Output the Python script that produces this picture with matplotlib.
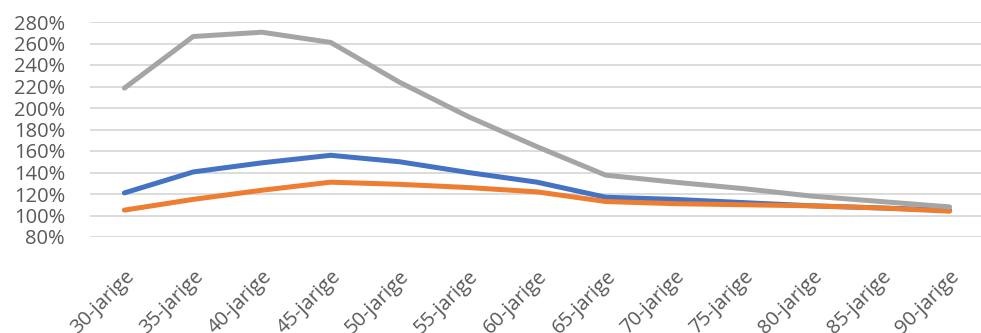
import matplotlib
matplotlib.use("Agg")
import matplotlib.pyplot as plt
from matplotlib.ticker import PercentFormatter

categories = ["30-jarige", "35-jarige", "40-jarige", "45-jarige", "50-jarige",
              "55-jarige", "60-jarige", "65-jarige", "70-jarige", "75-jarige",
              "80-jarige", "85-jarige", "90-jarige"]
blue = [121, 140.5, 149, 156, 150, 140, 131, 117, 115, 112, 109, 107, 105]
orange = [105, 115, 123.5, 131, 129, 126, 122, 113, 111, 110, 109, 107, 104]
grey = [218.5, 266.5, 270.5, 261, 224, 192, 164, 137.5, 131, 125, 118, 113, 108]

plt.rcParams['font.family'] = ['Open Sans', 'DejaVu Sans']

fig = plt.figure(figsize=(9.81, 3.33), dpi=100)
ax = fig.add_axes([90/981, 1 - 237/333, 894/981, 215/333])

x = range(len(categories))
ax.plot(x, blue, color='#4472C4', lw=3.6, solid_capstyle='round', zorder=3)
ax.plot(x, orange, color='#ED7D31', lw=3.6, solid_capstyle='round', zorder=3)
ax.plot(x, grey, color='#A5A5A5', lw=3.6, solid_capstyle='round', zorder=3)

ax.set_xlim(-0.5, len(categories) - 0.5)
ax.set_ylim(80, 280)
ax.set_yticks(range(80, 281, 20))
ax.yaxis.set_major_formatter(PercentFormatter(decimals=0))
ax.grid(axis='y', color='#D9D9D9', lw=1.3, zorder=0)
ax.set_axisbelow(True)
for s in ax.spines.values():
    s.set_visible(False)

ax.set_xticks(list(x))
ax.set_xticklabels(categories, rotation=45, ha='right', rotation_mode='anchor')
ax.tick_params(axis='both', length=0, labelsize=14.5, labelcolor='#595959')
ax.tick_params(axis='y', pad=18)
ax.tick_params(axis='x', pad=21)

fig.savefig("out.png", dpi=100)
